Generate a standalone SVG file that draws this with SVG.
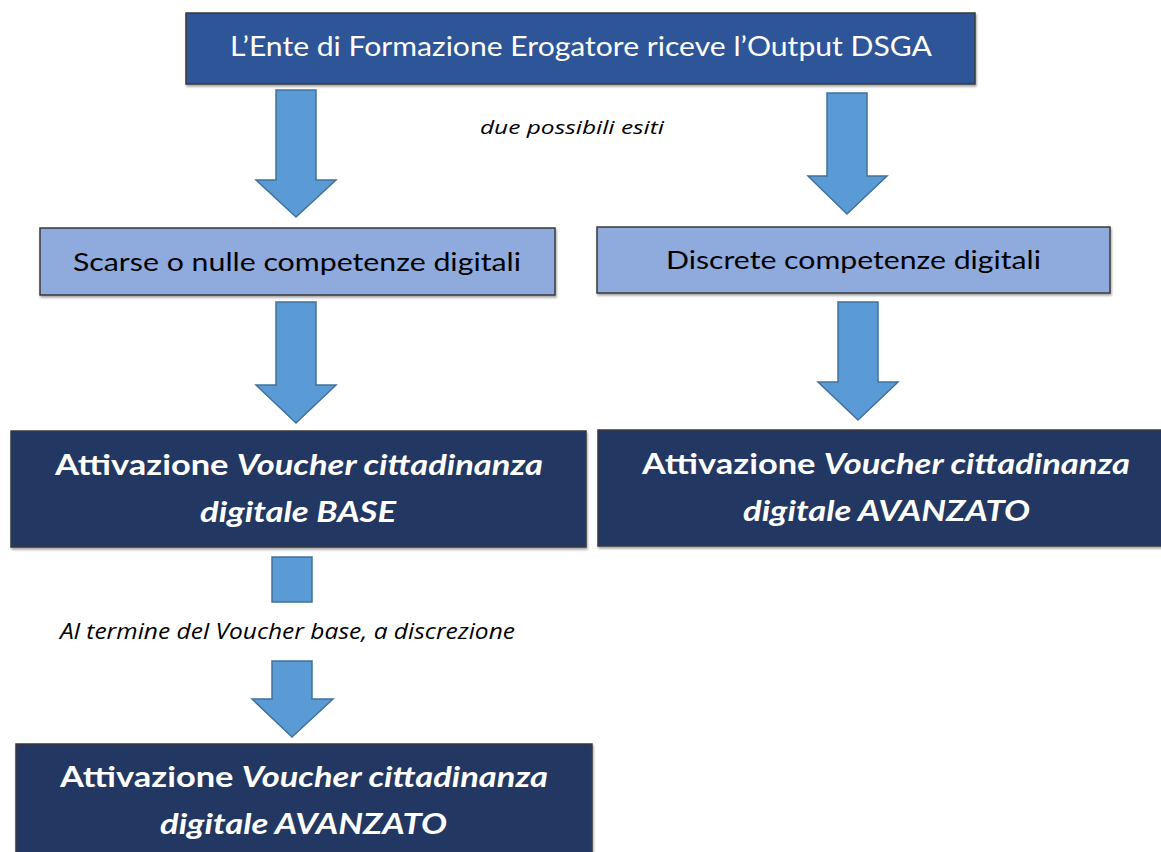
<svg xmlns="http://www.w3.org/2000/svg" width="1161" height="852" viewBox="0 0 1161 852">
<defs>
<style>
.box{stroke:#3a3a3a;stroke-width:1.5}
.top{fill:#2F5597}
.mid{fill:#8FAADC}
.dark{fill:#203864}
.arr{fill:#5B9BD5;stroke:#41719C;stroke-width:1.5;stroke-linejoin:miter}
.t{font-family:Lato,"Open Sans","Liberation Sans",sans-serif;text-anchor:start}
.lbl{font-family:"Open Sans","Noto Sans","Liberation Sans",sans-serif;font-style:italic;font-weight:normal;fill:#000000}
.w{fill:#ffffff}
.b{font-weight:bold}
.i{font-style:italic}
.k{fill:#000000}
</style>
<filter id="sh" x="-5%" y="-5%" width="110%" height="120%">
<feDropShadow dx="1" dy="2" stdDeviation="1.2" flood-color="#000" flood-opacity="0.35"/>
</filter>
</defs>
<rect width="1161" height="852" fill="#ffffff"/>

<g id="n-top">
<rect class="box top" x="186" y="13" width="789" height="71" filter="url(#sh)"/>
<text class="t w" x="230" y="56" font-size="27" textLength="702" lengthAdjust="spacingAndGlyphs">L’Ente di Formazione Erogatore riceve l’Output DSGA</text>
</g>

<g id="n-scarse">
<rect class="box mid" x="40" y="228" width="515" height="67" filter="url(#sh)"/>
<text class="t k" x="73" y="271" font-size="25" textLength="448" lengthAdjust="spacingAndGlyphs">Scarse o nulle competenze digitali</text>
</g>

<g id="n-discrete">
<rect class="box mid" x="597" y="227" width="513" height="66" filter="url(#sh)"/>
<text class="t k" x="666" y="269" font-size="25" textLength="375" lengthAdjust="spacingAndGlyphs">Discrete competenze digitali</text>
</g>

<g id="n-base">
<rect class="box dark" x="11" y="431" width="575" height="116" filter="url(#sh)"/>
<text class="t w b" x="55" y="475" font-size="29" textLength="488" lengthAdjust="spacingAndGlyphs">Attivazione <tspan class="i">Voucher cittadinanza</tspan></text>
<text class="t w b i" x="200" y="522" font-size="29" textLength="196" lengthAdjust="spacingAndGlyphs">digitale BASE</text>
</g>

<g id="n-avanzato-right">
<rect class="box dark" x="598" y="430" width="567" height="116" filter="url(#sh)"/>
<text class="t w b" x="642" y="474" font-size="29" textLength="488" lengthAdjust="spacingAndGlyphs">Attivazione <tspan class="i">Voucher cittadinanza</tspan></text>
<text class="t w b i" x="743" y="521" font-size="29" textLength="287" lengthAdjust="spacingAndGlyphs">digitale AVANZATO</text>
</g>

<g id="n-avanzato-bottom">
<rect class="box dark" x="16" y="744" width="576" height="116" filter="url(#sh)"/>
<text class="t w b" x="60" y="787" font-size="29" textLength="488" lengthAdjust="spacingAndGlyphs">Attivazione <tspan class="i">Voucher cittadinanza</tspan></text>
<text class="t w b i" x="160" y="834" font-size="29" textLength="287" lengthAdjust="spacingAndGlyphs">digitale AVANZATO</text>
</g>

<g id="connectors">
<path class="arr" d="M276,90 H316 V180 H336 L296,217 L256,180 H276 Z"/>
<path class="arr" d="M827,93 H867 V176 H887 L847,214 L808,176 H827 Z"/>
<path class="arr" d="M276,302 H316 V385 H336 L296,423 L256,385 H276 Z"/>
<path class="arr" d="M838,302 H878 V382 H898 L858,420 L818,382 H838 Z"/>
<rect x="272" y="557" width="40" height="45" fill="#5B9BD5" stroke="#41719C" stroke-width="1.5"/>
<path class="arr" d="M272,661 H312 V699 H333 L292,737 L252,699 H272 Z"/>
<text class="lbl" x="480" y="134" font-size="19" textLength="184" lengthAdjust="spacingAndGlyphs">due possibili esiti</text>
<text class="lbl" x="60" y="639" font-size="21" textLength="455" lengthAdjust="spacingAndGlyphs">Al termine del Voucher base, a discrezione</text>
</g>
</svg>
